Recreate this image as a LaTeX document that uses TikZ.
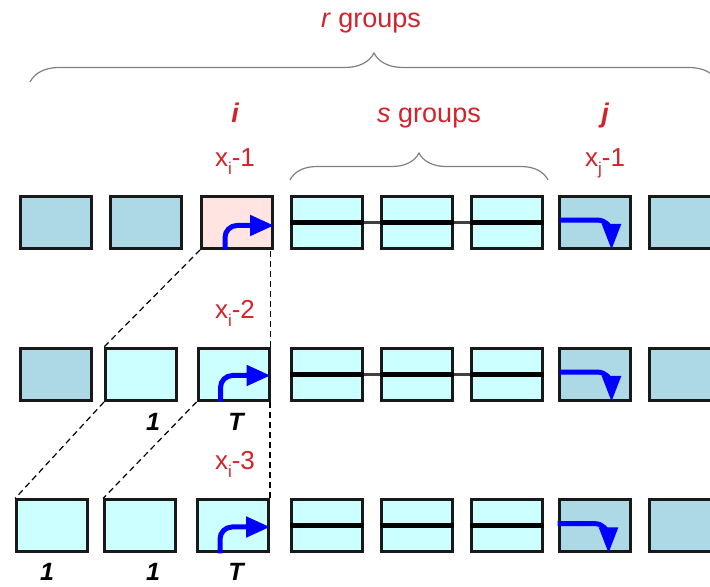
\documentclass[tikz,border=0pt]{standalone}
\usepackage{fontspec}
\setmainfont{Liberation Sans}
\usetikzlibrary{arrows.meta,decorations.pathreplacing}

\definecolor{cellblue}{HTML}{ADD8E6}
\definecolor{cellcyan}{HTML}{CCFFFF}
\definecolor{cellpink}{HTML}{FFE4E1}
\definecolor{labred}{RGB}{210,35,45}

\newcommand{\lowidx}[1]{\raisebox{-0.55ex}{\fontsize{8.5pt}{9pt}\selectfont #1}}

\tikzset{
  cell/.style={draw=black!90, line width=1.5pt, minimum width=35.5pt, minimum height=26pt, inner sep=0pt},
  deepcell/.style={cell, fill=cellblue},
  palecell/.style={cell, fill=cellcyan},
  pinkcell/.style={cell, fill=cellpink},
  bar/.style={line width=2.5pt, black},
  link/.style={line width=1.3pt, black!75},
  guide/.style={line width=0.6pt, dash pattern=on 3pt off 2pt},
  turnup/.style={blue, line width=2.5pt, rounded corners=6pt, -{Triangle[length=12pt,width=10pt]}},
  turndown/.style={blue, line width=2.5pt, rounded corners=7pt, -{Triangle[length=13pt,width=9pt]}},
  grpbrace/.style={draw=gray, line width=0.6pt, decorate},
  grplabel/.style={text=labred, font=\fontsize{13.5pt}{16pt}\selectfont, anchor=base},
  idxlabel/.style={text=labred, font=\fontsize{13.5pt}{16pt}\selectfont\bfseries\itshape, anchor=base},
  xlabel/.style={text=labred, font=\fontsize{13pt}{15pt}\selectfont, anchor=base},
  cntlabel/.style={font=\fontsize{12.5pt}{14pt}\selectfont\bfseries\itshape, anchor=base}
}

\begin{document}
\begin{tikzpicture}[x=0.5pt,y=0.5pt]
\useasboundingbox (0,0) rectangle (710,587);
\clip (0,0) rectangle (710,587);

% top braces and labels
\draw[grpbrace, decoration={brace, amplitude=14.5pt}] (30,505) -- (718,505);
\node[grplabel] (rlab) at (371,559) {\textit{r} groups};
\draw[grpbrace, decoration={brace, amplitude=13.5pt}] (290,407) -- (548,407);
\node[grplabel] (slab) at (429,464) {\textit{s} groups};
\node[idxlabel] (ilab) at (235,464) {i};
\node[idxlabel] (jlab) at (605,464) {j};
\node[xlabel] (xi1) at (235,420) {x\lowidx{i}-1};
\node[xlabel] (xj1) at (605,420) {x\lowidx{j}-1};

% row 1
\node[deepcell] (c11) at (56,364.5) {};
\node[deepcell] (c12) at (145.5,364.5) {};
\node[pinkcell] (c13) at (237,364.5) {};
\node[palecell] (c14) at (327,364.5) {};
\node[palecell] (c15) at (417,364.5) {};
\node[palecell] (c16) at (507,364.5) {};
\node[deepcell] (c17) at (594.5,364.5) {};
\node[deepcell] (c18) at (685,364.5) {};

% row 2
\node[deepcell] (c21) at (56,212.5) {};
\node[palecell] (c22) at (141,212.5) {};
\node[palecell] (c23) at (233.5,212.5) {};
\node[palecell] (c24) at (327,212.5) {};
\node[palecell] (c25) at (417,212.5) {};
\node[palecell] (c26) at (507,212.5) {};
\node[deepcell] (c27) at (594.5,212.5) {};
\node[deepcell] (c28) at (685,212.5) {};
\node[xlabel] (xi2) at (235,268) {x\lowidx{i}-2};
\node[cntlabel] (one21) at (153,156) {1};
\node[cntlabel] (tee2) at (236,156) {T};

% row 3
\node[palecell] (c31) at (52,61) {};
\node[palecell] (c32) at (140,61) {};
\node[palecell] (c33) at (233,61) {};
\node[palecell] (c34) at (327,61) {};
\node[palecell] (c35) at (417,61) {};
\node[palecell] (c36) at (507,61) {};
\node[deepcell] (c37) at (594.5,61) {};
\node[deepcell] (c38) at (685,61) {};
\node[xlabel] (xi3) at (235,117) {x\lowidx{i}-3};
\node[cntlabel] (one31) at (47,6) {1};
\node[cntlabel] (one32) at (153,6) {1};
\node[cntlabel] (tee3) at (236,6) {T};

% bars through the s groups
\draw[bar] (c14.west) -- (c14.east);
\draw[bar] (c15.west) -- (c15.east);
\draw[bar] (c16.west) -- (c16.east);
\draw[link] (c14.east) -- (c15.west);
\draw[link] (c15.east) -- (c16.west);
\draw[bar] (c24.west) -- (c24.east);
\draw[bar] (c25.west) -- (c25.east);
\draw[bar] (c26.west) -- (c26.east);
\draw[link] (c24.east) -- (c25.west);
\draw[link] (c25.east) -- (c26.west);
\draw[bar] (c34.west) -- (c34.east);
\draw[bar] (c35.west) -- (c35.east);
\draw[bar] (c36.west) -- (c36.east);

% dashed guides
\draw[guide] (c13.south west) -- (c22.north west);
\draw[guide] (c22.south west) -- (c31.north west);
\draw[guide] (c23.south west) -- (c32.north west);
\draw[guide] (c23.north east) -- (c23.north east |- c13.south);
\draw[guide] (c33.north east) -- (c33.north east |- c23.south);

% blue arrows
\draw[turnup] ([xshift=12.5pt]c13.south west) |- ([yshift=-1.5pt]c13.east);
\draw[turnup] ([xshift=12pt]c23.south west) |- ([yshift=-0.5pt]c23.east);
\draw[turnup] ([xshift=12pt]c33.south west) |- ([yshift=-0.5pt]c33.east);
\draw[turndown] ([xshift=1pt,yshift=1.2pt]c17.west) -| ([xshift=8.5pt]c17.south);
\draw[turndown] ([xshift=1pt,yshift=1.2pt]c27.west) -| ([xshift=8.5pt]c27.south);
\draw[turndown] ([xshift=0pt,yshift=1.2pt]c37.west) -| ([xshift=7pt]c37.south);
\end{tikzpicture}
\end{document}
